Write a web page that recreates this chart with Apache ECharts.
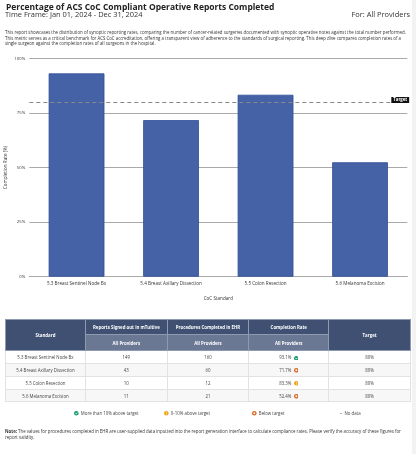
<!DOCTYPE html>
<html><head><meta charset="utf-8">
<script src="https://cdn.jsdelivr.net/npm/echarts/dist/echarts.min.js"></script>
<style>
html,body{margin:0;padding:0;background:#fff;}
body{width:416px;height:454px;overflow:hidden;position:relative;font-family:"Open Sans",sans-serif;color:#333;}
#chart{position:absolute;left:0;top:0;width:416px;height:454px;}
.t{position:absolute;white-space:nowrap;line-height:1;}
#strip{position:absolute;left:412px;top:0;width:4px;height:454px;background:#f3f3f3;}
table{position:absolute;left:5px;top:319.3px;width:405px;border-collapse:collapse;table-layout:fixed;font-size:4.3px;}
th{color:#fff;font-weight:700;border:0.6px solid #8e9ab0;padding:0;text-align:center;vertical-align:middle;}
th.h1{background:#3f5072;}
th.h2{background:#6a7894;}
td{border:0.6px solid #e2e2e2;padding:0;text-align:center;vertical-align:middle;color:#444;}
tr.alt td{background:#f7f7f7;}
svg{vertical-align:middle;}
.lg{position:absolute;top:410.5px;font-size:4.3px;white-space:nowrap;line-height:5px;color:#444;}
</style></head><body>
<div id="chart"></div>
<div id="strip"></div>
<div class="t" id="title" style="font-weight:700;color:#222;"></div>
<div class="t" id="sub" style="color:#333;"></div>
<div class="t" id="for" style="color:#333;"></div>
<div class="t" id="d1" style="color:#333;"></div>
<div class="t" id="d2" style="color:#333;"></div>
<div class="t" id="d3" style="color:#333;"></div>
<table id="tbl"></table>
<div id="legend"></div>
<div class="t" id="n1" style="color:#333;"></div>
<div class="t" id="n2" style="color:#333;"></div>
<script>
// ---- data ----
const standards = ["5.3 Breast Sentinel Node Bx", "5.4 Breast Axillary Dissection", "5.5 Colon Resection", "5.6 Melanoma Excision"];
const signedOut = [149, 43, 10, 11];
const completedEHR = [160, 60, 12, 21];
const completionRate = [93.1, 71.7, 83.3, 52.4];
const targetRate = 80;
const yTicks = [0, 25, 50, 75, 100];

const titleText = "Percentage of ACS CoC Compliant Operative Reports Completed";
const subText = "Time Frame: Jan 01, 2024 - Dec 31, 2024";
const forText = "For: All Providers";
const descLines = [
  "This report showcases the distribution of synoptic reporting rates, comparing the number of cancer-related surgeries documented with synoptic operative notes against the total number performed.",
  "This metric serves as a critical benchmark for ACS CoC accreditation, offering a transparent view of adherence to the standards of surgical reporting. This deep dive compares completion rates of a",
  "single surgeon against the completion rates of all surgeons in the hospital."
];
const noteLines = [
  "The values for procedures completed in EHR are user-supplied data inputted into the report generation interface to calculate compliance rates. Please verify the accuracy of these figures for",
  "report validity."
];

// ---- helpers ----
function fit(el, text, width, html) {
  if (html) el.innerHTML = html; else el.textContent = text;
  el.style.fontSize = '20px';
  const w = el.getBoundingClientRect().width;
  const f = 20 * width / w;
  el.style.fontSize = f + 'px';
  return f;
}
function placeY(el, f, cy) { el.style.top = (cy - 0.53 * f) + 'px'; }

const ICON = {
  green: '<svg width="4.6" height="4.6" viewBox="0 0 10 10"><circle cx="5" cy="5" r="5" fill="#1d9b72"/><path d="M2.8 5.2 L4.4 6.8 L7.3 3.6" stroke="#fff" stroke-width="1.6" fill="none"/></svg>',
  amber: '<svg width="4.6" height="4.6" viewBox="0 0 10 10"><circle cx="5" cy="5" r="5" fill="#f0a41a"/><rect x="4.3" y="2.2" width="1.4" height="3.6" fill="#fff"/><rect x="4.3" y="6.6" width="1.4" height="1.3" fill="#fff"/></svg>',
  orange: '<svg width="4.6" height="4.6" viewBox="0 0 10 10"><circle cx="5" cy="5" r="5" fill="#d8641c"/><circle cx="5" cy="5" r="2.2" fill="#fff"/></svg>'
};
function status(r) { return r >= targetRate + 10 ? 'green' : (r >= targetRate ? 'amber' : 'orange'); }

// ---- header texts ----
const tEl = document.getElementById('title');
const ft = fit(tEl, titleText, 269); tEl.style.left = '6px'; placeY(tEl, ft, 7.2);
const sEl = document.getElementById('sub');
const fs = fit(sEl, subText, 138); sEl.style.left = '5px'; placeY(sEl, fs, 15.4);
const fEl = document.getElementById('for');
fEl.textContent = forText; fEl.style.fontSize = fs + 'px'; fEl.style.right = '6px'; placeY(fEl, fs, 15.4);

const d1 = document.getElementById('d1');
const fd = fit(d1, descLines[0], 402); d1.style.left = '5px'; placeY(d1, fd, 32.6);
['d2', 'd3'].forEach((id, i) => {
  const el = document.getElementById(id);
  el.textContent = descLines[i + 1]; el.style.fontSize = fd + 'px'; el.style.left = '5px';
  placeY(el, fd, 38.1 + i * 5.4);
});

// ---- table ----
let html = '<colgroup><col style="width:80px"><col style="width:81.7px"><col style="width:81.6px"><col style="width:80px"><col style="width:81.7px"></colgroup>';
html += '<tr style="height:15px"><th class="h1" rowspan="2">Standard</th><th class="h1">Reports Signed out in mTuitive</th><th class="h1">Procedures Completed in EHR</th><th class="h1">Completion Rate</th><th class="h1" rowspan="2">Target</th></tr>';
html += '<tr style="height:16px"><th class="h2">All Providers</th><th class="h2">All Providers</th><th class="h2">All Providers</th></tr>';
standards.forEach((s, i) => {
  html += '<tr class="' + (i % 2 ? 'alt' : '') + '" style="height:12.8px"><td>' + s + '</td><td>' + signedOut[i] + '</td><td>' + completedEHR[i] +
    '</td><td>' + completionRate[i].toFixed(1) + '% &nbsp;' + ICON[status(completionRate[i])] + '</td><td>' + targetRate + '%</td></tr>';
});
document.getElementById('tbl').innerHTML = html;
document.getElementById('tbl').style.fontSize = fd + 'px';

// ---- legend ----
const legendItems = [
  { icon: 'green', text: 'More than 10% above target', x: 74 },
  { icon: 'amber', text: '0-10% above target', x: 164 },
  { icon: 'orange', text: 'Below target', x: 252 },
  { icon: null, text: 'No data', x: 340 }
];
let lg = '';
legendItems.forEach(it => {
  lg += '<div class="lg" style="left:' + it.x + 'px;font-size:' + fd + 'px">' +
    (it.icon ? ICON[it.icon] : '<span style="color:#666">&ndash;</span>') + '&nbsp;&nbsp;' + it.text + '</div>';
});
document.getElementById('legend').innerHTML = lg;

// ---- note ----
const n1 = document.getElementById('n1');
const fn = fit(n1, null, 397, '<b>Note:</b> ' + noteLines[0]); n1.style.left = '5px'; placeY(n1, fn, 431.6);
const n2 = document.getElementById('n2');
n2.textContent = noteLines[1]; n2.style.fontSize = fn + 'px'; n2.style.left = '5px'; placeY(n2, fn, 437.3);

// ---- chart ----
const chart = echarts.init(document.getElementById('chart'), null, { renderer: 'canvas' });
chart.setOption({
  animation: false,
  backgroundColor: 'transparent',
  textStyle: { fontFamily: 'Open Sans' },
  grid: { left: 29.3, right: 8.7, top: 58.3, bottom: 177.3, containLabel: false, outerBoundsMode: 'none' },
  xAxis: {
    type: 'category',
    data: standards,
    name: 'CoC Standard',
    nameLocation: 'middle',
    nameGap: 19,
    nameMoveOverlap: false,
    nameTextStyle: { fontSize: 4.6, color: '#333' },
    axisLine: { lineStyle: { color: '#aaa', width: 1 } },
    axisTick: { show: false },
    axisLabel: { fontSize: 4.6, color: '#333', margin: 4.5, interval: 0, hideOverlap: false }
  },
  yAxis: {
    type: 'value',
    min: yTicks[0], max: yTicks[yTicks.length - 1], interval: yTicks[1] - yTicks[0],
    name: 'Completion Rate (%)',
    nameLocation: 'middle',
    nameGap: 21,
    nameMoveOverlap: false,
    nameTextStyle: { fontSize: 4.6, color: '#333' },
    axisLine: { show: false },
    axisTick: { show: false },
    axisLabel: { fontSize: 4.3, color: '#333', margin: 4, formatter: '{value}%' },
    splitLine: { lineStyle: { color: '#aaa', width: 1 } }
  },
  series: [{
    type: 'bar',
    data: completionRate,
    barCategoryGap: '41%',
    itemStyle: { color: '#4562a7', borderColor: '#2e4c96', borderWidth: 0.8 },
    markLine: {
      silent: true,
      symbol: 'none',
      data: [{ yAxis: targetRate }],
      lineStyle: { type: [4, 3], color: '#888', width: 1 },
      label: {
        show: true, position: 'end', formatter: 'Target',
        color: '#fff', backgroundColor: '#111', fontSize: 4.3, fontWeight: 'bold',
        padding: [1, 2, 1, 2], offset: [-21, -2]
      }
    }
  }]
});
</script>
</body></html>
